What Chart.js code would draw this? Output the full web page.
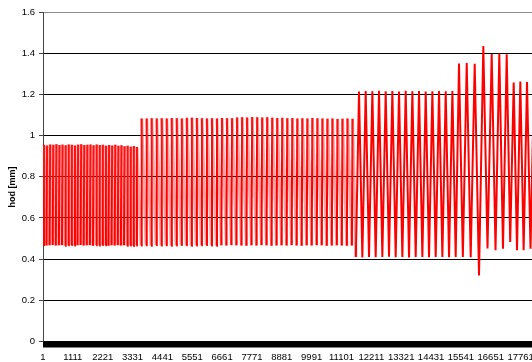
<!DOCTYPE html>
<html>
<head>
<meta charset="utf-8">
<script src="https://cdn.jsdelivr.net/npm/chart.js@4/dist/chart.umd.min.js"></script>
<style>
  html, body { margin: 0; padding: 0; background: #fff; overflow: hidden; }
  #wrap { width: 532px; height: 362px; overflow: hidden; }
</style>
</head>
<body>
<div id="wrap"><canvas id="chartHod" width="545" height="362"></canvas></div>
<script>
// tick labels (sample index) and y ticks
var xTicks = [1, 1111, 2221, 3331, 4441, 5551, 6661, 7771, 8881, 9991, 11101, 12211, 13321, 14431, 15541, 16651, 17761]
var yTicks = [0, 0.2, 0.4, 0.6, 0.8, 1, 1.2, 1.4, 1.6]

// each stroke cycle: trough (x,y) followed by peak (x,y)
var troughX = [
   1, 131, 246, 362, 477, 592, 707, 823, 938, 1053, 1168, 1284, 1399, 1514, 1629, 1745,
   1860, 1975, 2090, 2206, 2321, 2436, 2551, 2667, 2782, 2897, 3012, 3128, 3243, 3358, 3473,
   3646, 3833, 4019, 4206, 4393, 4579, 4766, 4953, 5139, 5326, 5513, 5699, 5886, 6073, 6260,
   6446, 6633, 6820, 7006, 7193, 7380, 7566, 7753, 7940, 8126, 8313, 8500, 8686, 8873, 9060,
   9247, 9433, 9620, 9807, 9993, 10180, 10367, 10553, 10740, 10927, 11113, 11300, 11487,
   11635, 11876, 12124, 12372, 12620, 12868, 13116, 13364, 13612, 13860, 14108, 14356, 14604, 14852, 15100,
   15347, 15613, 15905, 16214, 16530, 16828, 17106, 17374, 17627, 17874, 18129, 18389,
   18650
]
var troughY = [
   0.468, 0.466, 0.467, 0.469, 0.466, 0.467, 0.468, 0.465, 0.467, 0.468, 0.466, 0.467, 0.469, 0.466, 0.467, 0.468,
   0.465, 0.467, 0.466, 0.468, 0.467, 0.465, 0.467, 0.466, 0.468, 0.466, 0.467, 0.465, 0.466, 0.464, 0.466,
   0.466, 0.467, 0.465, 0.468, 0.466, 0.467, 0.465, 0.466, 0.468, 0.467, 0.465, 0.466, 0.467, 0.468, 0.466,
   0.465, 0.467, 0.466, 0.468, 0.467, 0.466, 0.465, 0.467, 0.466, 0.468, 0.467, 0.465, 0.466, 0.467, 0.466,
   0.468, 0.466, 0.465, 0.467, 0.466, 0.468, 0.467, 0.465, 0.466, 0.467, 0.466, 0.465, 0.466,
   0.410, 0.408, 0.411, 0.409, 0.410, 0.412, 0.409, 0.410, 0.408, 0.411, 0.410, 0.409, 0.411, 0.410, 0.409,
   0.410, 0.410, 0.409, 0.320, 0.452, 0.443, 0.450, 0.483, 0.443, 0.443, 0.450, 0.448,
   0.450
]
var peakX = [
   38, 153, 268, 384, 499, 614, 729, 845, 960, 1075, 1190, 1306, 1421, 1536, 1651, 1767,
   1882, 1997, 2112, 2228, 2343, 2458, 2573, 2689, 2804, 2919, 3034, 3150, 3265, 3380, 3495,
   3671, 3858, 4044, 4231, 4418, 4604, 4791, 4978, 5164, 5351, 5538, 5724, 5911, 6098, 6285,
   6471, 6658, 6845, 7031, 7218, 7405, 7591, 7778, 7965, 8151, 8338, 8525, 8711, 8898, 9085,
   9272, 9458, 9645, 9832, 10018, 10205, 10392, 10578, 10765, 10952, 11138, 11325, 11512,
   11752, 12000, 12248, 12496, 12744, 12992, 13240, 13488, 13736, 13984, 14232, 14480, 14728, 14976, 15224,
   15470, 15757, 16054, 16374, 16686, 16969, 17244, 17504, 17750, 17999, 18259, 18519
]
var peakY = [
   0.955, 0.952, 0.957, 0.955, 0.958, 0.954, 0.956, 0.953, 0.957, 0.955, 0.952, 0.956, 0.958, 0.954, 0.955, 0.957,
   0.953, 0.956, 0.954, 0.955, 0.951, 0.954, 0.952, 0.955, 0.950, 0.953, 0.948, 0.951, 0.946, 0.949, 0.945,
   1.083, 1.083, 1.084, 1.083, 1.084, 1.083, 1.085, 1.084, 1.083, 1.086, 1.087, 1.085, 1.084, 1.083, 1.084,
   1.083, 1.085, 1.084, 1.084, 1.088, 1.089, 1.088, 1.090, 1.089, 1.088, 1.089, 1.087, 1.085, 1.086, 1.084,
   1.085, 1.083, 1.084, 1.083, 1.085, 1.084, 1.083, 1.082, 1.083, 1.081, 1.082, 1.083, 1.082,
   1.214, 1.216, 1.215, 1.217, 1.215, 1.216, 1.214, 1.217, 1.215, 1.216, 1.214, 1.215, 1.216, 1.215, 1.216,
   1.350, 1.352, 1.349, 1.435, 1.396, 1.398, 1.395, 1.258, 1.262, 1.260, 1.260, 1.258
]

var xMax = 18668
var yTitle = 'hod [mm]'

function buildPoints(){
   var pts = []
   for (var i = 0; i < peakX.length; i++) {
      pts.push({x: troughX[i], y: troughY[i]})
      pts.push({x: peakX[i], y: peakY[i]})
   }
   if (troughX.length > peakX.length) {
      pts.push({x: troughX[peakX.length], y: troughY[peakX.length]})
   }
   return pts
}

var FONT = "'Liberation Sans', Arial, sans-serif"

// black band under the plot (crowded category ticks in the original) + axis title
var decorPlugin = {
   id: 'decor',
   afterDraw(chart) {
      var ctx = chart.ctx
      var a = chart.chartArea
      ctx.save()
      ctx.fillStyle = '#000'
      ctx.fillRect(a.left, a.bottom, a.right - a.left, 6)
      ctx.translate(13, 187)
      ctx.rotate(-Math.PI / 2)
      ctx.font = 'bold 9px ' + FONT
      ctx.textAlign = 'center'
      ctx.textBaseline = 'middle'
      ctx.fillText(yTitle, 0, 0)
      ctx.restore()
   }
}

// fast rise drawn solid, the slower noisy fall of the early blocks drawn pale
function rising(c){ return c.p1.parsed.y > c.p0.parsed.y }
function paleFall(c){ return !rising(c) && c.p0.parsed.x < 11600 }

var ctx = document.getElementById('chartHod').getContext('2d')
var grafico = new Chart(ctx, {
   type: 'line',
   data: {
      datasets: [{
         label: 'hod',
         data: buildPoints(),
         borderColor: '#ff0000',
         borderWidth: 2,
         pointRadius: 0,
         tension: 0,
         fill: false,
         segment: {
            borderColor: c => paleFall(c) ? 'rgba(255,40,40,0.42)' : '#ff0000',
            borderWidth: c => paleFall(c) ? 3 : 2
         }
      }]
   },
   options: {
      responsive: false,
      animation: false,
      devicePixelRatio: 1,
      layout: { padding: { top: 12, left: 0, right: 0, bottom: 0 } },
      plugins: { legend: { display: false }, tooltip: { enabled: false } },
      scales: {
         x: {
            type: 'linear',
            min: 1,
            max: xMax,
            afterBuildTicks: s => { s.ticks = xTicks.map(v => ({ value: v })) },
            afterFit: s => { s.height = 20.5 },
            grid: { display: false, drawTicks: false },
            border: { display: false },
            ticks: {
               autoSkip: false,
               maxRotation: 0,
               padding: 10,
               color: '#000',
               font: { family: FONT, size: 9.5 },
               callback: v => String(v)
            }
         },
         y: {
            min: 0,
            max: 1.6,
            afterBuildTicks: s => { s.ticks = yTicks.map(v => ({ value: v })) },
            afterFit: s => { s.width = 43 },
            grid: {
               color: c => c.index === yTicks.length - 1 ? '#8c8c8c' : '#000',
               tickColor: '#444',
               tickLength: 4,
               lineWidth: 1
            },
            border: { color: '#444', width: 1 },
            ticks: {
               padding: 4,
               color: '#000',
               font: { family: FONT, size: 9.5 },
               callback: v => String(Math.round(v * 10) / 10)
            }
         }
      }
   },
   plugins: [decorPlugin]
})
</script>
</body>
</html>
